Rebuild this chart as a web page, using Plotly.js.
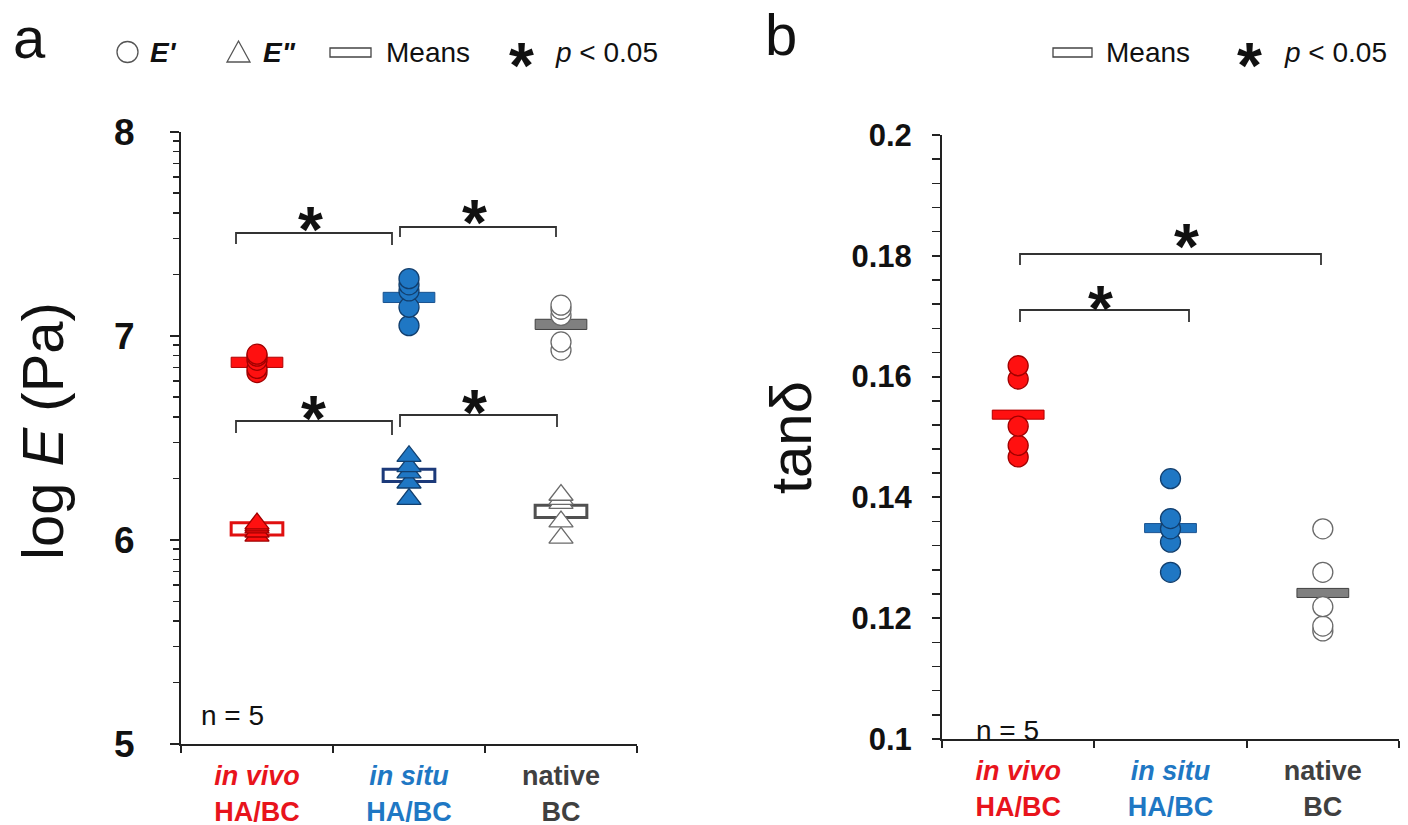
<!DOCTYPE html>
<html>
<head>
<meta charset="utf-8">
<script src="https://cdn.plot.ly/plotly-3.0.1.min.js"></script>
<style>html,body{margin:0;padding:0;background:#fff;}#chart{width:1408px;height:825px;}</style>
</head>
<body>
<div id="chart"></div>
<script>
// ---------- data ----------
const categories = ['in vivo HA/BC', 'in situ HA/BC', 'native BC'];
const catPos = [0.5, 1.5, 2.5];
const catLine1 = ['in vivo', 'in situ', 'native'];
const catLine2 = ['HA/BC', 'HA/BC', 'BC'];
const catItalic = [true, true, false];

// panel a: log E (Pa), n = 5
const storageInVivo = [6.91, 6.90, 6.88, 6.84, 6.82];   // E'
const storageInSitu = [7.28, 7.25, 7.22, 7.14, 7.05];
const storageNative = [7.15, 7.13, 7.10, 6.97, 6.93];
const lossInVivo = [6.08, 6.07, 6.06, 6.04, 6.02];      // E''
const lossInSitu = [6.41, 6.36, 6.33, 6.28, 6.20];
const lossNative = [6.22, 6.20, 6.18, 6.09, 6.01];

// panel b: tan delta, n = 5
const tanInVivo = [0.1618, 0.1596, 0.1518, 0.1486, 0.1467];
const tanInSitu = [0.1431, 0.1365, 0.1348, 0.1326, 0.1276];
const tanNative = [0.1348, 0.1276, 0.1219, 0.1187, 0.1179];

const yTicksA = [5, 6, 7, 8];
const yTicksB = [0.1, 0.12, 0.14, 0.16, 0.18, 0.2];
const yTickTextB = ['0.1', '0.12', '0.14', '0.16', '0.18', '0.2'];

// ---------- styles ----------
const W = 1408, H = 825;
const FONT = 'Liberation Sans, Arial, sans-serif';
const catColor = ['#e8141c', '#1f78c4', '#404040'];
const fill = ['#ff1010', '#1f77c4', '#ffffff'];
const edge = ['#a00000', '#123f6e', '#6a6a6a'];
const barFill = ['#ff1010', '#1f74c0', '#808080'];
const barEdge = ['#b00000', '#1a5390', '#404040'];
const openEdge = ['#e01010', '#1c3a7a', '#505050'];

const px = x => x / W;
const py = y => 1 - y / H;
const mean = a => a.reduce((s, v) => s + v, 0) / a.length;

const storage = [storageInVivo, storageInSitu, storageNative];
const loss = [lossInVivo, lossInSitu, lossNative];
const tan = [tanInVivo, tanInSitu, tanNative];

const traces = [];
function addPoints(groups, symbol, size, xa, ya) {
  groups.forEach((vals, i) => {
    traces.push({
      type: 'scatter', mode: 'markers', xaxis: xa, yaxis: ya,
      x: vals.map(() => catPos[i]), y: vals.slice().reverse(),
      marker: {symbol: symbol, size: size, color: fill[i], line: {color: edge[i], width: 1.3}},
      showlegend: false, hoverinfo: 'y', cliponaxis: false
    });
  });
}
addPoints(storage, 'circle', 20, 'x', 'y');
addPoints(loss, 'triangle-up', 21, 'x', 'y');
addPoints(tan, 'circle', 20, 'x2', 'y2');

const shapes = [];
// mean bars
const hwA = 0.17, hA = 0.05, hA2 = 0.06, hB = 0.0015;
storage.forEach((vals, i) => {
  const m = mean(vals);
  shapes.push({type: 'rect', xref: 'x', yref: 'y', layer: 'below', x0: catPos[i] - hwA, x1: catPos[i] + hwA,
    y0: m - hA / 2, y1: m + hA / 2, fillcolor: barFill[i], line: {color: barEdge[i], width: 1}});
});
loss.forEach((vals, i) => {
  const m = mean(vals);
  shapes.push({type: 'rect', xref: 'x', yref: 'y', layer: 'below', x0: catPos[i] - hwA, x1: catPos[i] + hwA,
    y0: m - hA2 / 2, y1: m + hA2 / 2, fillcolor: '#ffffff', line: {color: openEdge[i], width: 3}});
});
tan.forEach((vals, i) => {
  const m = mean(vals);
  shapes.push({type: 'rect', xref: 'x2', yref: 'y2', layer: 'below', x0: catPos[i] - hwA, x1: catPos[i] + hwA,
    y0: m - hB / 2, y1: m + hB / 2, fillcolor: barFill[i], line: {color: barEdge[i], width: 1}});
});

// significance brackets (pixel coords)
function bracket(x0, x1, y, yl, yr) {
  shapes.push({type: 'path', xref: 'paper', yref: 'paper',
    path: `M ${px(x0)} ${py(yl)} L ${px(x0)} ${py(y)} L ${px(x1)} ${py(y)} L ${px(x1)} ${py(yr)}`,
    line: {color: '#333', width: 1.8}});
}
bracket(236, 392, 233, 244, 245);
bracket(400, 556, 227, 237, 237);
bracket(236, 392, 421, 433, 435);
bracket(400, 557, 415, 427, 427);
bracket(1020, 1321, 254, 265, 265);
bracket(1020, 1189, 310, 322, 322);

// legend glyphs
shapes.push({type: 'circle', xref: 'paper', yref: 'paper', x0: px(117), x1: px(138), y0: py(62.5), y1: py(41.5),
  line: {color: '#555', width: 1.3}, fillcolor: '#fff'});
shapes.push({type: 'path', xref: 'paper', yref: 'paper',
  path: `M ${px(227)} ${py(62)} L ${px(250)} ${py(62)} L ${px(238.5)} ${py(41)} Z`,
  line: {color: '#555', width: 1.3}, fillcolor: '#fff'});
shapes.push({type: 'rect', xref: 'paper', yref: 'paper', x0: px(330), x1: px(371), y0: py(57), y1: py(48),
  line: {color: '#444', width: 1.3}, fillcolor: '#fff'});
shapes.push({type: 'rect', xref: 'paper', yref: 'paper', x0: px(1053), x1: px(1092), y0: py(57), y1: py(48),
  line: {color: '#444', width: 1.3}, fillcolor: '#fff'});

const annotations = [];
function txt(x, y, text, size, opts) {
  annotations.push(Object.assign({xref: 'paper', yref: 'paper', x: px(x), y: py(y), text: text, showarrow: false,
    font: {family: FONT, size: size, color: '#111'}, xanchor: 'left', yanchor: 'middle'}, opts || {}));
}
function star(x, y) { txt(x, y, '<b>*</b>', 64, {xanchor: 'center', yanchor: 'middle'}); }

txt(11, 38, 'a', 58);
txt(763, 34, 'b', 58);
// legend a
txt(148, 53, '<b><i>E\'</i></b>', 28);
txt(261, 53, '<b><i>E"</i></b>', 28);
txt(384, 53, 'Means', 28);
star(521, 66);
txt(553, 53, '<i>p</i> &lt; 0.05', 28);
// legend b
txt(1104, 53, 'Means', 28);
star(1249, 66);
txt(1282, 53, '<i>p</i> &lt; 0.05', 28);
// stars on brackets
star(310, 230);
star(474, 223);
star(313, 419);
star(474, 413);
star(1186, 247);
star(1100, 309);
// n labels
txt(199, 715, 'n = 5', 28);
txt(974, 730, 'n = 5', 28);
// y titles
txt(42, 431, 'log <i>E</i> (Pa)', 58, {textangle: -90, xanchor: 'center'});
txt(790, 438, 'tanδ', 58, {textangle: -90, xanchor: 'center'});

const tickText = catPos.map((p, i) => {
  const l1 = catItalic[i] ? `<i>${catLine1[i]}</i>` : catLine1[i];
  return `<span style="color:${catColor[i]}"><b>${l1}</b></span><br><span style="color:${catColor[i]}"><b>${catLine2[i]}</b></span>`;
});

const minorA = [];
for (let n = 5; n < 8; n++) for (let k = 2; k <= 9; k++) minorA.push(n + Math.log10(k));

const axLine = {showline: true, linecolor: '#222', linewidth: 2, zeroline: false, showgrid: false, fixedrange: true};
const xCommon = Object.assign({}, axLine, {
  range: [0, 3], tickmode: 'array', tickvals: catPos, ticktext: tickText, ticks: '', ticklen: 0,
  tickfont: {family: FONT, size: 27}, ticklabelstandoff: 7,
  minor: {tickmode: 'array', tickvals: [0, 1, 2, 3], ticks: 'outside', ticklen: 7, tickwidth: 2, tickcolor: '#222'}
});

const layout = {
  width: W, height: H, margin: {l: 0, r: 0, t: 0, b: 0}, paper_bgcolor: '#fff', plot_bgcolor: '#fff',
  showlegend: false, font: {family: FONT, color: '#111'},
  xaxis: Object.assign({}, xCommon, {domain: [px(181), px(637)], anchor: 'y'}),
  yaxis: Object.assign({}, axLine, {domain: [py(744), py(131.7)], anchor: 'x', range: [5, 8],
    tickmode: 'array', tickvals: yTicksA, ticktext: yTicksA.map(String), ticks: 'outside', ticklen: 9, tickwidth: 2, tickcolor: '#222',
    tickfont: {family: FONT, size: 37, weight: 'bold', color: '#111'}, ticklabelstandoff: 28,
    minor: {tickmode: 'array', tickvals: minorA, ticks: 'outside', ticklen: 6, tickwidth: 1.5, tickcolor: '#222'}}),
  xaxis2: Object.assign({}, xCommon, {domain: [px(942), px(1399)], anchor: 'y2'}),
  yaxis2: Object.assign({}, axLine, {domain: [py(739), py(135)], anchor: 'x2', range: [0.1, 0.2],
    tickmode: 'array', tickvals: yTicksB, ticktext: yTickTextB, ticks: 'outside', ticklen: 8, tickwidth: 2, tickcolor: '#222',
    tickfont: {family: FONT, size: 31, weight: 'bold', color: '#111'}, ticklabelstandoff: 14,
    minor: {tickmode: 'linear', tick0: 0.1, dtick: 0.004, ticks: 'outside', ticklen: 8, tickwidth: 1.5, tickcolor: '#222'}}),
  shapes: shapes,
  annotations: annotations
};

Plotly.newPlot('chart', traces, layout, {displayModeBar: false, staticPlot: true});
</script>
</body>
</html>
